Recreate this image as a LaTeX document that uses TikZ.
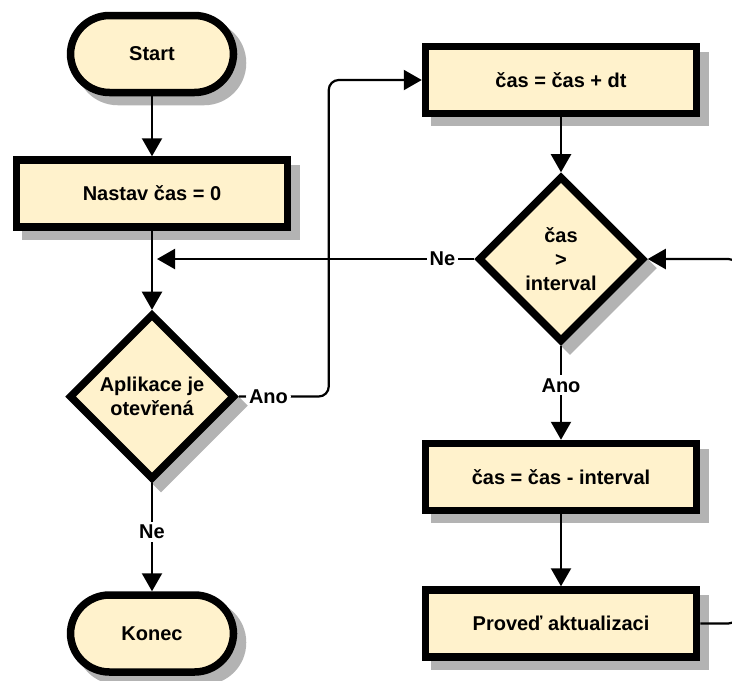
\documentclass[tikz,border=0pt]{standalone}
\usepackage{fontspec}
\setmainfont{Liberation Sans}
\usetikzlibrary{arrows.meta,positioning,shapes.geometric,backgrounds}
\definecolor{FlowFill}{HTML}{FFF2CC}
\definecolor{FlowShadow}{HTML}{B3B3B3}

\begin{document}
\begin{tikzpicture}[>={Triangle[length=18pt,width=20pt]}]
    \tikzset{box/.style={draw,line width=7.5pt,fill=FlowFill,align=center,
      font=\bfseries\fontsize{20}{24}\selectfont},
      term/.style={box,rounded corners=39pt,minimum width=163pt,minimum height=77pt},
      proc/.style={box,minimum width=271pt,minimum height=67pt},
      dec/.style={box,diamond,aspect=1,minimum width=166pt,minimum height=166pt,inner sep=0pt},
      wire/.style={line width=2.2pt},
      tag/.style={fill=white,inner sep=3pt,font=\bfseries\fontsize{20}{24}\selectfont}}
    \useasboundingbox (0,0) rectangle (732pt,-681pt);
    % left column
    \node[term] (start) at (152pt,-54pt) {Start};
    \node[proc,below=60pt of start] (nastav) {Nastav čas = 0};
    \node[dec,below=79pt of nastav] (aplik) {Aplikace je\\otevřená};
    \node[term,below=108pt of aplik] (konec) {Konec};
    % right column
    \node[proc] (casdt) at (561pt,-80pt) {čas = čas + dt};
    \node[dec,below=55pt of casdt] (vetsi) {čas\\>\\interval};
    \node[proc,below=94pt of vetsi] (odecti) {čas = čas - interval};
    \node[proc,below=72pt of odecti] (proved) {Proveď aktualizaci};
    \coordinate (merge) at (nastav.south |- vetsi.west);

    % shadows
    \begin{scope}[on background layer,every path/.style={fill=FlowShadow}]
      \foreach \n in {nastav,casdt,odecti,proved}
        \fill ([xshift=9pt,yshift=-9pt]\n.south west) rectangle ([xshift=9pt,yshift=-9pt]\n.north east);
      \foreach \n in {start,konec}
        \fill[rounded corners=42pt] ([xshift=9pt,yshift=-9pt]\n.south west) rectangle ([xshift=9pt,yshift=-9pt]\n.north east);
      \foreach \n in {aplik,vetsi}
        \fill ([xshift=9pt,yshift=-9pt]\n.north) -- ([xshift=9pt,yshift=-9pt]\n.east)
          -- ([xshift=9pt,yshift=-9pt]\n.south) -- ([xshift=9pt,yshift=-9pt]\n.west) -- cycle;
    \end{scope}

    \draw[wire,->] (start) -- (nastav);
    \draw[wire,->] (nastav) -- (aplik);
    \draw[wire,->] (aplik) -- node[tag,pos=0.45] {Ne} (konec);
    \draw[wire,->,rounded corners=10pt] (aplik.east) -- node[tag,pos=0.33] {Ano} ++(90pt,0) |- (casdt.west);
    \draw[wire,->] (casdt) -- (vetsi);
    \draw[wire,->] (vetsi.west) -- node[tag,pos=0.1] {Ne} ([xshift=5pt]merge);
    \draw[wire,->] (vetsi) -- node[tag,pos=0.42] {Ano} (odecti);
    \draw[wire,->] (odecti) -- (proved);
    \draw[wire,->,rounded corners=10pt] (proved.east) -- ++(38pt,0) |- (vetsi.east);
\end{tikzpicture}
\end{document}
